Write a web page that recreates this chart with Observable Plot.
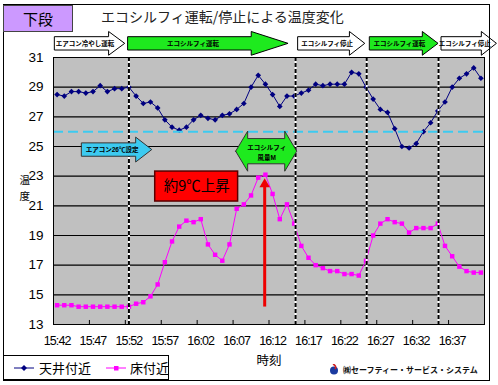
<!DOCTYPE html>
<html><head><meta charset="utf-8">
<script src="https://cdn.jsdelivr.net/npm/d3@7"></script>
<script src="https://cdn.jsdelivr.net/npm/@observablehq/plot@0.6"></script>
<style>
body{margin:0;background:#fff;}
#wrap{position:relative;width:498px;height:385px;overflow:hidden;font-family:"Liberation Sans","Noto Sans CJK JP",sans-serif;}
#chart{position:absolute;left:0;top:0;}
#frame{position:absolute;left:3px;top:4px;width:485px;height:375px;border:1px solid #000;pointer-events:none;}
#badge{position:absolute;left:3px;top:5px;width:68px;height:25px;background:#cc99ff;border:1px solid #444;font:15px "Noto Sans CJK JP";text-align:center;line-height:25px;}
#title{position:absolute;left:101px;top:6px;font:14px "Noto Sans CJK JP";color:#222;line-height:20px;white-space:nowrap;}
#legend{position:absolute;left:3px;top:355px;width:166px;height:25px;box-sizing:border-box;border:1px solid #000;background:#fff;font:13px "Noto Sans CJK JP";}
#legend .it{position:absolute;top:0;height:23px;line-height:23px;white-space:nowrap;}
#logo{position:absolute;left:329px;top:363px;font:bold 8px "Noto Sans CJK JP";line-height:14px;white-space:nowrap;color:#111;}
.chart [aria-label="x-axis tick label"] text{letter-spacing:-0.9px;}
</style></head>
<body><div id="wrap"><div id="chart"></div><div id="frame"></div>
<div id="badge">下段</div>
<div id="title"></div>
<div id="legend"></div>
<div id="logo"></div>
</div>
<script>
// ---- data ----
const chartTitle = "エコシルフィ運転/停止による温度変化";
const timeLabels = ["15:42","15:47","15:52","15:57","16:02","16:07","16:12","16:17","16:22","16:27","16:32","16:37"];
const seriesNames = ["天井付近", "床付近"];
const yTitle = ["温", "度"];
const xTitle = "時刻";
const ceiling = [28.5,28.4,28.7,28.7,28.6,28.7,29.1,28.7,28.9,28.9,
  29.0,28.4,27.9,28.0,27.6,26.8,26.3,26.1,26.3,26.8,
  27.1,26.9,26.8,27.1,27.2,27.5,27.9,29.0,29.8,29.2,
  28.5,27.7,28.4,28.4,28.6,28.8,29.2,29.1,29.2,29.2,
  29.2,30.0,29.9,29.0,28.2,27.5,27.3,26.2,25.0,24.9,
  25.2,26.0,26.6,27.4,28.0,29.0,29.6,29.9,30.3,29.6];
const floorT = [14.3,14.3,14.3,14.2,14.2,14.2,14.2,14.2,14.2,14.2,
  14.2,14.4,14.5,14.9,15.7,17.2,18.6,19.6,20.0,19.9,
  20.1,18.4,17.7,17.3,18.4,20.8,21.1,21.7,22.9,23.1,
  21.8,20.1,21.1,19.8,18.3,17.5,17.0,16.8,16.6,16.6,
  16.4,16.4,16.3,17.3,19.0,19.8,20.1,19.9,19.8,19.2,
  19.5,19.5,19.5,19.8,18.3,17.6,16.9,16.6,16.5,16.5];
const yTicks = [13,15,17,19,21,23,25,27,29,31];
const setTemp = [26];
const switchAt = [10, 33.2, 43.1, 53.1];
const phaseLabels = ["エアコン冷やし運転","エコシルフィ運転","エコシルフィ停止","エコシルフィ運転","エコシルフィ停止"];
const phaseFrom = [-0.26, 9.94, 33.61, 43.59, 53.57];
const phaseTo = [9.48, 32.22, 42.9, 53.1, 61.23];
const phaseOn = [false, true, false, true, false];
const acLabel = "エアコン26℃設定"; const acFrom = 3.5, acTo = 13.25, acLevel = 24.76;
const fanLabel = "エコシルフィ\n風量M"; const fanFrom = 24.93, fanTo = 33.43, fanLevel = 24.65;
const riseLabel = "約9℃上昇"; const riseBox = {x1: 13.66, x2: 25.2, y1: 21.29, y2: 23.31};
const riseArrow = {x: 28.9, from: 14.21, to: 22.45};
const companyName = "㈱セーフティー・サービス・システム";

// ---- styles ----
const NAVY = "#000080", MAG = "#ff00ff", GREEN = "#1eea1e", CYAN = "#3ccaf0";
const topLevel = 31.92, bodyHalf = 0.45, headHalf = 0.8;
const diamondSym = {draw(ctx, size){const r = Math.sqrt(size)*0.62; ctx.moveTo(0,-r); ctx.lineTo(r,0); ctx.lineTo(0,r); ctx.lineTo(-r,0); ctx.closePath();}};

function blockArrow(from, to, mid, bh, hh){
  const head = Math.max(2.1, 0.23*(to-from));
  const xh = to - head;
  return [{x:from,y1:mid-bh,y2:mid+bh},{x:xh,y1:mid-bh,y2:mid+bh},{x:xh,y1:mid-hh,y2:mid+hh},{x:to,y1:mid,y2:mid}];
}
function doubleArrow(from, to, mid, bh, hh, head){
  return [{x:from,y1:mid,y2:mid},{x:from+head,y1:mid-hh,y2:mid+hh},{x:from+head,y1:mid-bh,y2:mid+bh},
          {x:to-head,y1:mid-bh,y2:mid+bh},{x:to-head,y1:mid-hh,y2:mid+hh},{x:to,y1:mid,y2:mid}];
}

const ceilRows = ceiling.map((v,i)=>({i, v}));
const floorRows = floorT.map((v,i)=>({i, v}));
const labelIdx = timeLabels.map((_,k)=>k*5);
const boundaries = labelIdx.slice(1).map(i=>i-0.5);

const marks = [
  Plot.frame({fill:"#c0c0c0"}),
  Plot.ruleY(yTicks.slice(1,-1), {stroke:"#000", strokeWidth:1.2}),
  Plot.ruleX(boundaries, {y1:13, y2:13.27, stroke:"#000"}),
  Plot.line(ceilRows, {x:"i", y:"v", stroke:NAVY, strokeWidth:1}),
  Plot.dot(ceilRows, {x:"i", y:"v", symbol:diamondSym, r:2.6, fill:NAVY, stroke:"none"}),
  Plot.line(floorRows, {x:"i", y:"v", stroke:MAG, strokeWidth:1}),
  Plot.dot(floorRows, {x:"i", y:"v", symbol:"square", r:2.5, fill:MAG, stroke:"none"}),
  Plot.ruleY(setTemp, {stroke:CYAN, strokeWidth:2, strokeDasharray:"10,5"}),
  Plot.ruleX(switchAt, {stroke:"#fff", strokeWidth:2}),
  Plot.ruleX(switchAt, {stroke:"#000", strokeWidth:2, strokeDasharray:"4,2"}),
  Plot.frame({stroke:"#000"}),
];
phaseLabels.forEach((lab, k) => {
  marks.push(Plot.areaY(blockArrow(phaseFrom[k], phaseTo[k], topLevel, bodyHalf, headHalf),
    {x:"x", y1:"y1", y2:"y2", fill: phaseOn[k] ? GREEN : "#fff", stroke:"#000", strokeWidth:1, curve:"linear"}));
  const head = Math.max(2.1, 0.23*(phaseTo[k]-phaseFrom[k]));
  marks.push(Plot.text([lab], {x: (phaseFrom[k] + phaseTo[k]-head)/2 + 0.4, y: topLevel, text:d=>d, fontSize:6.5, fontWeight:"bold", fill:"#000"}));
});
// AC setting arrow
marks.push(Plot.areaY(blockArrow(acFrom, acTo, acLevel, 0.45, 0.84), {x:"x", y1:"y1", y2:"y2", fill:CYAN, stroke:"#333", strokeWidth:1}));
marks.push(Plot.text([acLabel], {x: acFrom + (acTo-acFrom-2.24)/2 + 0.4, y: acLevel, text:d=>d, fontSize:6.5, fontWeight:"bold", fill:"#000"}));
// fan double arrow
marks.push(Plot.areaY(doubleArrow(fanFrom, fanTo, fanLevel, 0.85, 1.35, 1.67), {x:"x", y1:"y1", y2:"y2", fill:GREEN, stroke:"#333", strokeWidth:1}));
marks.push(Plot.text([fanLabel], {x:(fanFrom+fanTo)/2, y:fanLevel, text:d=>d, fontSize:6.5, fontWeight:"bold", lineHeight:1.5, fill:"#000"}));
// rise box
marks.push(Plot.rect([riseBox], {x1:"x1", x2:"x2", y1:"y1", y2:"y2", fill:"#ff0000", stroke:"#5a0000", strokeWidth:1.5}));
marks.push(Plot.text([riseLabel], {x:(riseBox.x1+riseBox.x2)/2, y:(riseBox.y1+riseBox.y2)/2, text:d=>d, fontSize:14.5, fill:"#000", fontFamily:"Noto Sans CJK JP"}));
// rise arrow
marks.push(Plot.link([riseArrow], {x1:"x", x2:"x", y1:"from", y2:d=>d.to-0.1, stroke:"#ee0000", strokeWidth:3}));
marks.push(Plot.dot([riseArrow], {x:"x", y:"to", symbol:"triangle", r:3.9, fill:"#ee0000", stroke:"none"}));
// axes
marks.push(Plot.axisY({ticks: yTicks, tickSize:0, tickPadding:10, fontSize:13.5, label:null}));
marks.push(Plot.axisX({ticks: labelIdx, tickFormat: i => timeLabels[i/5], tickSize:0, tickPadding:12, fontSize:12.5, label:null}));
marks.push(Plot.text([xTitle], {frameAnchor:"bottom", dy:40, text:d=>d, fontSize:12.5, fontFamily:"Noto Sans CJK JP"}));
marks.push(Plot.text([yTitle[0]], {frameAnchor:"left", dx:-34, dy:-10, text:d=>d, fontSize:10.5, fontFamily:"Noto Sans CJK JP"}));
marks.push(Plot.text([yTitle[1]], {frameAnchor:"left", dx:-34, dy:6, text:d=>d, fontSize:10.5, fontFamily:"Noto Sans CJK JP"}));

const chart = Plot.plot({
  width: 498, height: 385,
  marginLeft: 53, marginRight: 14, marginTop: 57, marginBottom: 61,
  className: "chart",
  style: {fontFamily: '"Liberation Sans","Noto Sans CJK JP",sans-serif', background: "#fff", color: "#000", overflow: "visible"},
  x: {domain: [-0.5, 59.5], axis: null},
  y: {domain: [13, 31], axis: null},
  marks
});
document.getElementById("chart").appendChild(chart);
document.getElementById("title").textContent = chartTitle;

// legend
const lg = document.getElementById("legend");
lg.innerHTML = `
<svg style="position:absolute;left:0;top:0" width="164" height="23">
 <line x1="10" x2="30" y1="12" y2="12" stroke="${NAVY}" stroke-width="1"/>
 <path d="M20,9 L23,12 L20,15 L17,12Z" fill="${NAVY}"/>
 <line x1="102" x2="122" y1="12" y2="12" stroke="${MAG}" stroke-width="1"/>
 <rect x="110" y="10" width="4.5" height="4.5" fill="${MAG}"/>
</svg>
<span class="it" style="left:35px">${seriesNames[0]}</span>
<span class="it" style="left:126px">${seriesNames[1]}</span>`;
document.getElementById("logo").innerHTML = `<svg width="10" height="11" style="vertical-align:-2px;margin-right:4px"><circle cx="5" cy="6.5" r="4" fill="#1a3aa0"/><path d="M4,0 Q8,2 6,5" stroke="#d02020" stroke-width="1.6" fill="none"/></svg>${companyName}`;
</script></body></html>
